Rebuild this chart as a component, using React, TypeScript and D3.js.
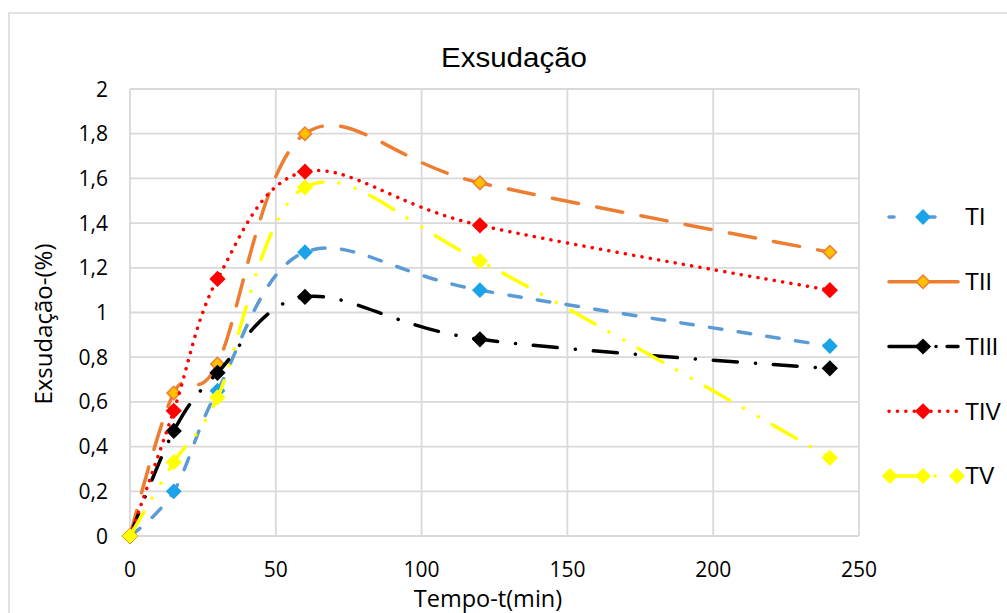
import React from "react";
import * as d3 from "d3";

// minutes
const tempo = [0, 15, 30, 60, 120, 240];

const seriesNames = ["TI", "TII", "TIII", "TIV", "TV"];
const tI = [0, 0.2, 0.65, 1.27, 1.1, 0.85];
const tII = [0, 0.64, 0.77, 1.8, 1.58, 1.27];
const tIII = [0, 0.47, 0.73, 1.07, 0.88, 0.75];
const tIV = [0, 0.56, 1.15, 1.63, 1.39, 1.1];
const tV = [0, 0.33, 0.62, 1.56, 1.23, 0.35];

const xTicks = [0, 50, 100, 150, 200, 250];
const yTicks = [0, 0.2, 0.4, 0.6, 0.8, 1, 1.2, 1.4, 1.6, 1.8, 2];

const W = 1007;
const H = 613;

const styles = [
  { line: "#5B9BD5", dash: "12.5 16.5", legDash: "5 36", fill: "#1AA3E8", stroke: "none", size: 125 },
  { line: "#ED7D31", dash: "26.5 18.5", legDash: "none", fill: "#FFC000", stroke: "#ED7D31", size: 90 },
  { line: "#000000", dash: "24 18 0.1 18", legDash: "34 13 0.1 11", fill: "#000000", stroke: "none", size: 132 },
  { line: "#FF0000", dash: "0.1 8.3", legDash: "0.1 8.3", fill: "#FF0000", stroke: "none", size: 132 },
  { line: "#FFFF00", dash: "28 16 0.1 17 0.1 16", legDash: "33 13 0.1 100", fill: "#FFFF00", stroke: "none", size: 132 },
];

const App = () => {
  const x = d3.scaleLinear().domain([0, 250]).range([130, 859]);
  const y = d3.scaleLinear().domain([0, 2]).range([536, 89]);

  const allSeries = [tI, tII, tIII, tIV, tV];

  const line = d3
    .line<number>()
    .x((_, i) => x(tempo[i]))
    .y((d) => y(d))
    .curve(d3.curveCardinal.tension(0));

  const diamond = (size: number) => d3.symbol().type(d3.symbolSquare).size(size)()!;

  const fmt = (v: number) => String(v).replace(".", ",");

  const legendY = d3.scalePoint<string>().domain(seriesNames).range([217, 476]);

  return (
    <div style={{ position: "absolute", left: 0, top: 0 }}>
      <svg width={W} height={H} style={{ display: "block", background: "#fff" }}>
        <rect x={9} y={13} width={1200} height={800} fill="#fff" stroke="#D9D9D9" strokeWidth={1.5} />

        {/* title */}
        <text
          x={514}
          y={67}
          textAnchor="middle"
          fontFamily="Liberation Sans, Arial, sans-serif"
          fontSize={28}
          textLength={146}
          lengthAdjust="spacingAndGlyphs"
          fill="#000"
        >
          Exsudação
        </text>

        {/* grid */}
        <g stroke="#D9D9D9" strokeWidth={1.8}>
          {yTicks.map((t) => (
            <line key={"h" + t} x1={x(0)} x2={x(250)} y1={y(t)} y2={y(t)} />
          ))}
          {xTicks.map((t) => (
            <line key={"v" + t} x1={x(t)} x2={x(t)} y1={y(0)} y2={y(2)} />
          ))}
        </g>

        {/* tick labels */}
        <g fontFamily="Open Sans, sans-serif" fontSize={21} fill="#000">
          {yTicks.map((t) => (
            <text key={"yl" + t} x={108} y={y(t)} dy="0.36em" textAnchor="end">
              {fmt(t)}
            </text>
          ))}
          {xTicks.map((t) => (
            <text key={"xl" + t} x={x(t)} y={577} textAnchor="middle">
              {t}
            </text>
          ))}
        </g>

        {/* axis titles */}
        <text x={488} y={607} textAnchor="middle" fontFamily="Open Sans, sans-serif" fontSize={23.5} fill="#000">
          Tempo-t(min)
        </text>
        <text
          transform={`translate(52, 324) rotate(-90)`}
          textAnchor="middle"
          fontFamily="Open Sans, sans-serif"
          fontSize={24}
          fill="#000"
        >
          Exsudação-(%)
        </text>

        {/* series */}
        {allSeries.map((s, k) => (
          <g key={"s" + k}>
            <path
              d={line(s)!}
              fill="none"
              stroke={styles[k].line}
              strokeWidth={3.5}
              strokeDasharray={styles[k].dash}
              strokeLinecap="round"
              strokeLinejoin="round"
            />
            {s.map((v, i) => (
              <path
                key={i}
                d={diamond(styles[k].size)}
                transform={`translate(${x(tempo[i])},${y(v)}) rotate(45)`}
                fill={styles[k].fill}
                stroke={styles[k].stroke}
                strokeWidth={1.5}
              />
            ))}
          </g>
        ))}

        {/* legend */}
        {seriesNames.map((name, k) => {
          const ly = legendY(name)!;
          const markerXs = name === "TV" ? [890, 923, 957] : [923];
          return (
            <g key={"lg" + name}>
              <line
                x1={889}
                x2={958}
                y1={ly}
                y2={ly}
                stroke={styles[k].line}
                strokeWidth={3.5}
                strokeDasharray={styles[k].legDash}
                strokeLinecap="round"
              />
              {markerXs.map((mx) => (
                <path
                  key={mx}
                  d={diamond(styles[k].size)}
                  transform={`translate(${mx},${ly}) rotate(45)`}
                  fill={styles[k].fill}
                  stroke={styles[k].stroke}
                  strokeWidth={1.5}
                />
              ))}
              <text
                x={965}
                y={ly}
                dy="0.36em"
                fontFamily="Liberation Sans, Arial, sans-serif"
                fontSize={23}
                fill="#000"
              >
                {name}
              </text>
            </g>
          );
        })}
      </svg>
    </div>
  );
};

export default App;
